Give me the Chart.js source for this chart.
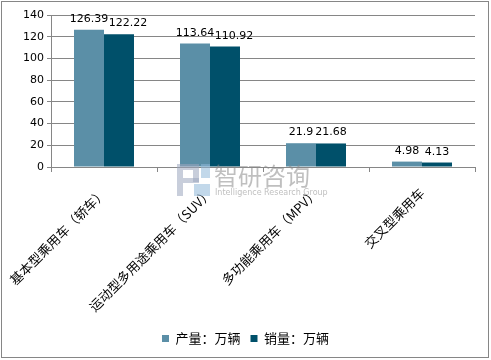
<!DOCTYPE html>
<html>
<head>
<meta charset="utf-8">
<script src="https://cdn.jsdelivr.net/npm/chart.js@4"></script>
<style>
  html, body { margin: 0; padding: 0; background: #fff; }
  #wrap { width: 491px; height: 360px; }
</style>
</head>
<body>
<div id="wrap"><canvas id="carChart" width="491" height="360"></canvas></div>
<script>
// categories and values
const categories = ['基本型乘用车（轿车）', '运动型多用途乘用车（SUV）', '多功能乘用车（MPV）', '交叉型乘用车'];
const production = [126.39, 113.64, 21.9, 4.98];
const sales = [122.22, 110.92, 21.68, 4.13];
const yTicks = [0, 20, 40, 60, 80, 100, 120, 140];

const gridGrey = '#868686';

// frame around the whole picture
const framePlugin = {
    id: 'frame',
    afterDraw(chart) {
        const ctx = chart.ctx;
        ctx.save();
        ctx.strokeStyle = gridGrey;
        ctx.lineWidth = 1;
        ctx.strokeRect(1.5, 1.5, 487, 356);
        ctx.restore();
    }
};

// value labels above bars
const valueLabels = {
    id: 'valueLabels',
    afterDatasetsDraw(chart) {
        const ctx = chart.ctx;
        ctx.save();
        ctx.font = '11px "DejaVu Sans"';
        ctx.fillStyle = '#000';
        ctx.textAlign = 'center';
        ctx.textBaseline = 'alphabetic';
        chart.data.datasets.forEach((ds, i) => {
            const meta = chart.getDatasetMeta(i);
            meta.data.forEach((bar, j) => {
                // sales labels on the first two groups sit a little to the right
                const shift = (i === 1 && j < 2) ? 9 : 0;
                ctx.fillText(String(ds.data[j]), bar.x + shift, bar.y - 8);
            });
        });
        ctx.restore();
    }
};

// faint watermark
const watermark = {
    id: 'watermark',
    afterDatasetsDraw(chart) {
        const ctx = chart.ctx;
        ctx.save();
        ctx.globalAlpha = 0.55;
        ctx.fillStyle = '#9aa6bd';
        ctx.fillRect(177, 164, 22, 6);
        ctx.fillRect(177, 170, 6, 26);
        ctx.fillRect(193, 170, 6, 12);
        ctx.fillRect(183, 178, 16, 5);
        ctx.fillStyle = '#8fb8d8';
        ctx.fillRect(201, 164, 9, 14);
        ctx.fillRect(194, 184, 16, 12);
        ctx.fillStyle = '#8a8a8a';
        ctx.font = '24px "Noto Sans CJK SC"';
        ctx.textBaseline = 'alphabetic';
        ctx.fillText('智研咨询', 214, 185);
        ctx.font = '8px "DejaVu Sans"';
        ctx.fillText('Intelligence Research Group', 215, 195);
        ctx.restore();
    }
};

const ctx = document.getElementById('carChart').getContext('2d');
new Chart(ctx, {
    type: 'bar',
    data: {
        labels: categories,
        datasets: [
            {
                label: '产量：万辆',
                data: production,
                backgroundColor: '#5b8fa7',
                borderWidth: 0
            },
            {
                label: '销量：万辆',
                data: sales,
                backgroundColor: '#00506a',
                borderWidth: 0
            }
        ]
    },
    options: {
        responsive: false,
        animation: false,
        devicePixelRatio: 1,
        layout: { padding: { left: 16, right: 16, top: 15, bottom: 5 } },
        categoryPercentage: 0.566,
        barPercentage: 1.0,
        plugins: {
            legend: {
                position: 'bottom',
                labels: {
                    boxWidth: 7,
                    boxHeight: 7,
                    padding: 10,
                    color: '#000',
                    font: { family: '"Noto Sans CJK SC"', size: 13 }
                }
            },
            tooltip: { enabled: false }
        },
        scales: {
            x: {
                afterFit(scale) {
                    scale.height = 155;
                    // rotated labels may overhang the left edge, keep the plot where it is
                    scale.paddingLeft = 0;
                    scale.paddingRight = 0;
                },
                grid: {
                    offset: true,
                    drawOnChartArea: false,
                    color: gridGrey,
                    tickLength: 5
                },
                border: { color: gridGrey },
                ticks: {
                    minRotation: 45,
                    maxRotation: 45,
                    color: '#000',
                    padding: 13,
                    font: { family: '"Noto Sans CJK SC"', size: 13 }
                }
            },
            y: {
                min: 0,
                max: 140,
                afterFit(scale) { scale.width = 35; },
                afterBuildTicks(scale) { scale.ticks = yTicks.map(v => ({ value: v })); },
                grid: { color: gridGrey, tickLength: 4 },
                border: { color: gridGrey },
                ticks: {
                    color: '#000',
                    padding: 3,
                    font: { family: '"DejaVu Sans"', size: 11 }
                }
            }
        }
    },
    plugins: [valueLabels, watermark, framePlugin]
});
</script>
</body>
</html>
